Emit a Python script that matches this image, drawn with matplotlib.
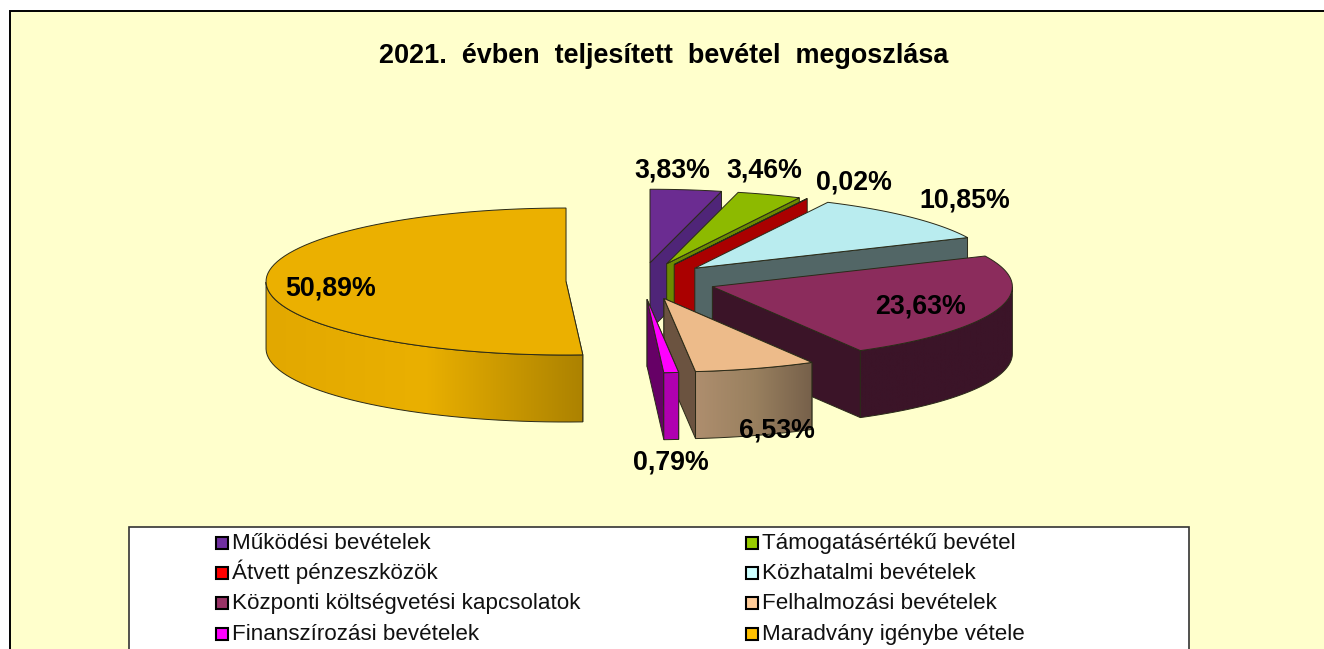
import numpy as np
import matplotlib
matplotlib.use("Agg")
import matplotlib.pyplot as plt
from matplotlib.patches import Polygon, Rectangle
from matplotlib.path import Path
from matplotlib.colors import LinearSegmentedColormap

plt.rcParams['font.family'] = ['Liberation Sans', 'DejaVu Sans']

# data
categories = ["Működési bevételek", "Támogatásértékű bevétel", "Átvett pénzeszközök",
              "Közhatalmi bevételek", "Központi költségvetési kapcsolatok",
              "Felhalmozási bevételek", "Finanszírozási bevételek", "Maradvány igénybe vétele"]
values = [3.83, 3.46, 0.02, 10.85, 23.63, 6.53, 0.79, 50.89]
value_labels = ["3,83%", "3,46%", "0,02%", "10,85%", "23,63%", "6,53%", "0,79%", "50,89%"]
title = "2021.  évben  teljesített  bevétel  megoszlása"

top_colors = ["#6B2C91", "#8DBA00", "#C00000", "#B9ECEF", "#8B2C5C", "#EDBB8A", "#FF00FF", "#EBB000"]
cut_colors = ["#4F2578", "#6B8A00", "#AA0000", "#526666", "#3B1428", "#6B5340", "#660066", "#9C7600"]
wall_left = ["#4F2578", "#6B8A00", "#AA0000", "#526666", "#3B1428", "#AE8E6E", "#B000B0", "#E2A800"]
wall_mid = ["#4F2578", "#6B8A00", "#AA0000", "#526666", "#3B1428", "#99805F", "#B000B0", "#EAB000"]
wall_right = ["#4F2578", "#6B8A00", "#AA0000", "#526666", "#3B1428", "#76604A", "#B000B0", "#AC8200"]
legend_colors = ["#7030A0", "#99CC00", "#FF0000", "#CCFFFF", "#993366", "#FFCC99", "#FF00FF", "#FFC000"]
draw_order = [7, 0, 1, 2, 3, 4, 5, 6]

# pie geometry in pixels
CX, CY = 641, 281
RX, RY = 300, 73.5
DEPTH = 67
EXPLODE = 75
EDGE = "#2A2A18"

# label baselines in pixels
label_pos = [(672, 177), (764, 177), (854, 190), (965, 208), (921, 314), (777, 438), (671, 470), (331, 296)]
legend_cols = [215, 745]
legend_rows = [543, 573, 603, 634]

fig = plt.figure(figsize=(13.24, 6.49), dpi=100, facecolor="white")
ax = fig.add_axes([0, 0, 1, 1])
ax.set_xlim(0, 1324)
ax.set_ylim(649, 0)
ax.axis("off")

ax.add_patch(Rectangle((10, 10.5), 1320, 650, facecolor="#FFFFCC", edgecolor="black", lw=1.4, zorder=0))
ax.text(663.5, 63, title, ha="center", va="baseline", fontsize=19.45, fontweight="bold", color="black")


def point(ox, oy, deg):
    a = np.radians(deg)
    return ox + RX * np.sin(a), oy - RY * np.cos(a)


def draw_wall(pts, i, z):
    # outer wall, shaded from left to right
    x0, x1 = pts[:, 0].min(), pts[:, 0].max()
    cmap = LinearSegmentedColormap.from_list("w", [wall_left[i], wall_mid[i], wall_right[i]])
    im = ax.imshow(np.linspace(0, 1, 256).reshape(1, -1), cmap=cmap, aspect="auto",
                   extent=[x0, x1, pts[:, 1].max(), pts[:, 1].min()], zorder=z)
    poly = Polygon(pts, closed=True, facecolor="none", edgecolor=EDGE, lw=0.7, zorder=z + 0.1)
    ax.add_patch(poly)
    im.set_clip_path(Path(pts), ax.transData)


edges = np.concatenate([[0], np.cumsum(values)]) / sum(values) * 360
for n, i in enumerate(draw_order):
    start, end = edges[i], edges[i + 1]
    mid = np.radians((start + end) / 2)
    ox = CX + EXPLODE * np.sin(mid)
    oy = CY - EXPLODE * RY / RX * np.cos(mid)
    z = 2 + n
    arc = np.linspace(start, end, 80)
    ax_, ay_ = point(ox, oy, arc)
    arc_pts = np.column_stack([ax_, ay_])

    # cut faces
    for deg in (start, end):
        px, py = point(ox, oy, deg)
        face = [(ox, oy), (px, py), (px, py + DEPTH), (ox, oy + DEPTH)]
        # the face at "start" only shows for slices past the bottom
        if (deg == end and end < 180) or (deg == start and 90 < start < 180):
            ax.add_patch(Polygon(face, closed=True, facecolor=cut_colors[i], edgecolor=EDGE, lw=0.7, zorder=z))

    # outer wall, front half only
    front = np.cos(np.radians(arc)) < 0.02
    if i == 7:
        front = (arc < 270)
    elif i == 4:
        front = arc >= 90
    if front.sum() > 1:
        f = arc_pts[front]
        wall = np.vstack([f, (f + [0, DEPTH])[::-1]])
        draw_wall(wall, i, z + 0.2)

    # top face
    top = np.vstack([[ox, oy], arc_pts])
    ax.add_patch(Polygon(top, closed=True, facecolor=top_colors[i], edgecolor=EDGE, lw=0.7, zorder=z + 0.5))

for (x, y), lab in zip(label_pos, value_labels):
    ax.text(x, y, lab, ha="center", va="baseline", fontsize=19.3, fontweight="bold", color="black", zorder=20)

# legend box runs off the bottom of the picture
ax.add_patch(Rectangle((128.5, 527), 1060, 140, facecolor="white", edgecolor="#333333", lw=1.2, zorder=21))
for i, name in enumerate(categories):
    lx = legend_cols[i % 2]
    ly = legend_rows[i // 2]
    ax.add_patch(Rectangle((lx + 0.5, ly - 6), 12, 12, facecolor=legend_colors[i], edgecolor="black", lw=1.5, zorder=22))
    ax.text(lx + 17, ly + 6, name, ha="left", va="baseline", fontsize=16.15, color="#111111", zorder=22)

fig.savefig("out.png", dpi=100, facecolor="white")
